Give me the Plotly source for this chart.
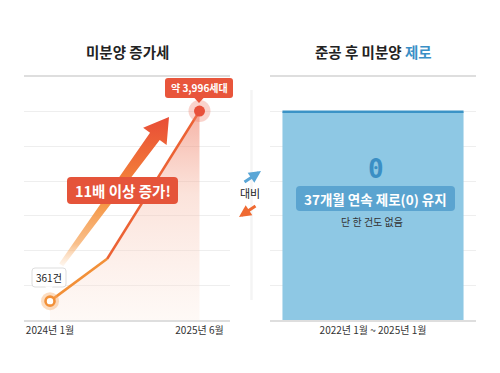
import plotly.graph_objects as go

W, H = 500, 373

# ---------------- data ----------------
growth_months = [0, 6.5, 17]              # months since 2024-01
growth_units = [361, 1170, 3996]          # unsold units
growth_tickvals = [0, 17]
growth_ticktext = ["2024년 1월", "2025년 6월"]
start_label = "361건"
end_label = "약 3,996세대"
growth_badge = "11배 이상 증가!"

zero_period = ["2022년 1월 ~ 2025년 1월"]
zero_months = [37]
zero_badge = "37개월 연속 제로(0) 유지"
zero_sub = "단 한 건도 없음"

FONT = "Noto Sans CJK KR, Noto Sans, sans-serif"


def px(x):
    return x / W


def py(y):
    return 1 - y / H


def rrect(x0, y0, x1, y1, r):
    pts = [
        f"M {px(x0 + r)} {py(y0)}",
        f"L {px(x1 - r)} {py(y0)}",
        f"Q {px(x1)} {py(y0)} {px(x1)} {py(y0 + r)}",
        f"L {px(x1)} {py(y1 - r)}",
        f"Q {px(x1)} {py(y1)} {px(x1 - r)} {py(y1)}",
        f"L {px(x0 + r)} {py(y1)}",
        f"Q {px(x0)} {py(y1)} {px(x0)} {py(y1 - r)}",
        f"L {px(x0)} {py(y0 + r)}",
        f"Q {px(x0)} {py(y0)} {px(x0 + r)} {py(y0)}",
        "Z",
    ]
    return " ".join(pts)


def tri(pts):
    s = "M " + " L ".join(f"{px(a)} {py(b)}" for a, b in pts) + " Z"
    return s


fig = go.Figure()

# gradient fill under growth line
fig.add_trace(go.Scatter(
    x=growth_months, y=growth_units, mode="none", fill="tozeroy",
    fillgradient=dict(type="vertical", colorscale=[
        [0, "rgba(252,235,225,0.3)"], [0.6, "rgba(246,185,165,0.4)"],
        [1, "rgba(238,115,90,0.55)"]]),
    xaxis="x", yaxis="y", hoverinfo="skip", showlegend=False))

# line segments
fig.add_trace(go.Scatter(
    x=growth_months[0:2], y=growth_units[0:2], mode="lines",
    line=dict(color="#f29038", width=2.6), xaxis="x", yaxis="y",
    showlegend=False))
fig.add_trace(go.Scatter(
    x=growth_months[1:3], y=growth_units[1:3], mode="lines",
    line=dict(color="#ec6234", width=2.6), xaxis="x", yaxis="y",
    showlegend=False))

# halo + markers
fig.add_trace(go.Scatter(
    x=[growth_months[0]], y=[growth_units[0]], mode="markers",
    marker=dict(size=18, color="rgba(247,170,100,0.4)"),
    xaxis="x", yaxis="y", showlegend=False))
fig.add_trace(go.Scatter(
    x=[growth_months[0]], y=[growth_units[0]], mode="markers",
    marker=dict(size=9, color="white", line=dict(color="#f29038", width=2.6)),
    xaxis="x", yaxis="y", showlegend=False))
fig.add_trace(go.Scatter(
    x=[growth_months[-1]], y=[growth_units[-1]], mode="markers",
    marker=dict(size=22, color="rgba(240,130,110,0.35)"),
    xaxis="x", yaxis="y", showlegend=False))
fig.add_trace(go.Scatter(
    x=[growth_months[-1]], y=[growth_units[-1]], mode="markers",
    marker=dict(size=11, color="#e8503a"),
    xaxis="x", yaxis="y", showlegend=False))

# zero bar
fig.add_trace(go.Bar(
    x=zero_period, y=zero_months, marker=dict(color="#8ec8e4", line=dict(width=0)),
    xaxis="x2", yaxis="y2", showlegend=False, hoverinfo="skip"))

# decorative big arrow (pixel overlay)
ux, uy = 0.589, -0.808
nx, ny = 0.808, 0.589
T = (169, 117)
M = (T[0] - 24 * ux, T[1] - 24 * uy)
TL = (M[0] - 159 * ux, M[1] - 159 * uy)
hw_head, hw_tail, hh = 6.0, 2.5, 14.5
poly = [
    (TL[0] - hw_tail * nx, TL[1] - hw_tail * ny),
    (M[0] - hw_head * nx, M[1] - hw_head * ny),
    (M[0] - hh * nx, M[1] - hh * ny),
    T,
    (M[0] + hh * nx, M[1] + hh * ny),
    (M[0] + hw_head * nx, M[1] + hw_head * ny),
    (TL[0] + hw_tail * nx, TL[1] + hw_tail * ny),
]
poly.append(poly[0])
fig.add_trace(go.Scatter(
    x=[p[0] for p in poly], y=[H - p[1] for p in poly], mode="lines",
    line=dict(width=0), fill="toself",
    fillgradient=dict(type="vertical", colorscale=[
        [0, "rgba(250,200,150,0.15)"], [0.15, "rgba(247,170,100,0.75)"],
        [0.45, "#f4903c"], [0.75, "#ef6a38"], [1, "#e84d36"]]),
    xaxis="x3", yaxis="y3", hoverinfo="skip", showlegend=False))

GRID = "#eeeeee"
TOP = 4648
ZTOP = 37 * 7 / 6
ydom = [py(320), py(77)]

fig.update_layout(
    width=W, height=H,
    margin=dict(l=0, r=0, t=0, b=0),
    paper_bgcolor="white", plot_bgcolor="rgba(0,0,0,0)",
    font=dict(family=FONT, color="#333"),
    bargap=0.121,
    xaxis=dict(domain=[px(24), px(230)], range=[-2.96, 20.47],
               tickvals=growth_tickvals, ticktext=growth_ticktext,
               tickfont=dict(size=10, color="#333"), showgrid=False,
               zeroline=False, showline=True, mirror=True,
               linecolor="#dedede", linewidth=1.5, ticks=""),
    yaxis=dict(domain=ydom, range=[0, TOP], dtick=TOP / 7, tick0=0,
               showticklabels=False, gridcolor=GRID, zeroline=False,
               showline=False),
    xaxis2=dict(domain=[px(270), px(476)], range=[-0.5, 0.5],
                tickfont=dict(size=10, color="#333"), showgrid=False,
                zeroline=False, showline=True, mirror=True,
                linecolor="#dedede", linewidth=1.5, ticks=""),
    yaxis2=dict(domain=ydom, range=[0, ZTOP], dtick=ZTOP / 7, tick0=0,
                showticklabels=False, gridcolor=GRID, zeroline=False,
                showline=False),
    xaxis3=dict(domain=[0, 1], range=[0, W], visible=False, fixedrange=True),
    yaxis3=dict(domain=[0, 1], range=[0, H], visible=False, fixedrange=True),
)

shapes = []
# separator (soft)
shapes.append(dict(type="line", xref="paper", yref="paper",
                   x0=px(251.5), x1=px(251.5), y0=py(90), y1=py(300),
                   line=dict(color="#f4f4f4", width=2.5), layer="below"))
# bar top border
shapes.append(dict(type="line", xref="x2", yref="y2", x0=-0.4395, x1=0.4395,
                   y0=zero_months[0], y1=zero_months[0],
                   line=dict(color="#3b93c6", width=2.5)))
# callout end
shapes.append(dict(type="path", xref="paper", yref="paper",
                   path=rrect(165, 78, 233, 98, 3), fillcolor="#e8553b",
                   line=dict(width=0)))
shapes.append(dict(type="path", xref="paper", yref="paper",
                   path=tri([(194, 97.5), (204, 97.5), (199, 103)]),
                   fillcolor="#e8553b", line=dict(width=0)))
# badge growth
shapes.append(dict(type="path", xref="paper", yref="paper",
                   path=rrect(67, 177, 178, 204, 4), fillcolor="#e5543a",
                   line=dict(width=0)))
# start callout
shapes.append(dict(type="path", xref="paper", yref="paper",
                   path=rrect(32, 268, 66, 287, 3), fillcolor="white",
                   line=dict(color="#dddddd", width=1)))
shapes.append(dict(type="path", xref="paper", yref="paper",
                   path=tri([(45, 286.5), (53, 286.5), (49, 292)]),
                   fillcolor="white", line=dict(width=0)))
# zero badge
shapes.append(dict(type="path", xref="paper", yref="paper",
                   path=rrect(296, 186, 455, 211, 4), fillcolor="#5ba4d0",
                   line=dict(width=0)))
fig.update_layout(shapes=shapes)

ann = []


def add_text(x, y, text, size, color="#222", family=FONT):
    ann.append(dict(x=px(x), y=py(y), xref="paper", yref="paper",
                    text=text, showarrow=False, xanchor="center",
                    yanchor="middle", font=dict(size=size, color=color,
                                                family=family)))


add_text(127, 52, "<b>미분양 증가세</b>", 14.5)
add_text(373, 52, "<b>준공 후 미분양 <span style='color:#3a8fc6'>제로</span></b>", 14.5)
add_text(199, 88, f"<b>{end_label}</b>", 10, "white")
add_text(122.5, 190.5, f"<b>{growth_badge}</b>", 14.5, "white")
add_text(49, 277.5, start_label, 10, "#222")
add_text(376, 169, "<b>0</b>", 26, "#3b8fc4", "DejaVu Sans Mono")
add_text(375.5, 198.5, f"<b>{zero_badge}</b>", 13.5, "white")
add_text(372, 221.5, zero_sub, 10, "#333")
add_text(249.5, 193, "대비", 11, "#222")

# middle arrows
ann.append(dict(x=px(261), y=py(171), xref="paper", yref="paper",
                ax=243 - 261, ay=183 - 171, axref="pixel", ayref="pixel",
                showarrow=True, arrowhead=2, arrowsize=0.8, arrowwidth=3,
                arrowcolor="#5aa6d6", text=""))
ann.append(dict(x=px(239), y=py(217), xref="paper", yref="paper",
                ax=257 - 239, ay=205 - 217, axref="pixel", ayref="pixel",
                showarrow=True, arrowhead=2, arrowsize=0.8, arrowwidth=3,
                arrowcolor="#ef6a32", text=""))
fig.update_layout(annotations=ann)

fig.write_html("out.html", config={"displayModeBar": False},
               post_script="document.body.style.margin='0';")
